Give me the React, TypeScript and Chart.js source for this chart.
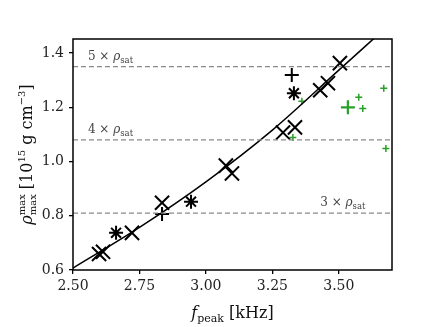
import React, { useEffect, useRef } from "react";
import { Chart, registerables } from "chart.js";
Chart.register(...registerables);

// ---- data ----
const xTickValues = [2.5, 2.75, 3.0, 3.25, 3.5];
const yTickValues = [0.6, 0.8, 1.0, 1.2, 1.4];

const crossX = [2.598, 2.613, 2.722, 2.835, 3.075, 3.098, 3.29, 3.335, 3.43, 3.459, 3.504];
const crossY = [0.659, 0.667, 0.737, 0.848, 0.985, 0.956, 1.107, 1.126, 1.263, 1.289, 1.363];

const starX = [2.662, 2.944, 3.331];
const starY = [0.737, 0.852, 1.252];

const plusX = [2.835, 3.323];
const plusY = [0.807, 1.319];

const greenSmallX = [3.361, 3.327, 3.575, 3.59, 3.669, 3.677];
const greenSmallY = [1.222, 1.089, 1.237, 1.196, 1.27, 1.048];

const greenBigX = [3.534];
const greenBigY = [1.2];

const fitX = [2.5, 2.75, 3.0, 3.25, 3.5, 3.65];
const fitY = [0.607, 0.757, 0.925, 1.116, 1.337, 1.47];

const rhoSat = 0.27;
const satMultiples = [3, 4, 5];
const satLabelX = [3.43, 2.556, 2.556];

const X_MIN = 2.5;
const X_MAX = 3.7;
const Y_MIN = 0.6;
const Y_MAX = 1.452;

const zip = (xs: number[], ys: number[]) => xs.map((x, i) => ({ x, y: ys[i] }));

type Seg = { t: string; italic?: boolean; size: number; dy?: number; stackNext?: boolean };

const fontOf = (s: Seg) => `${s.italic ? "italic " : ""}${s.size}px "DejaVu Serif"`;

function measureRich(ctx: CanvasRenderingContext2D, segs: Seg[]) {
  const widths: number[] = segs.map((s) => {
    ctx.font = fontOf(s);
    return ctx.measureText(s.t).width;
  });
  let total = 0;
  for (let i = 0; i < segs.length; i++) {
    if (segs[i].stackNext) {
      total += Math.max(widths[i], widths[i + 1]);
      i++;
    } else total += widths[i];
  }
  return { widths, total };
}

function drawRich(ctx: CanvasRenderingContext2D, segs: Seg[], cx: number, cy: number, color: string) {
  const { widths, total } = measureRich(ctx, segs);
  let x = cx - total / 2;
  ctx.fillStyle = color;
  ctx.textBaseline = "alphabetic";
  ctx.textAlign = "left";
  for (let i = 0; i < segs.length; i++) {
    const s = segs[i];
    ctx.font = fontOf(s);
    ctx.fillText(s.t, x, cy + (s.dy || 0));
    if (s.stackNext) {
      const n = segs[i + 1];
      ctx.font = fontOf(n);
      ctx.fillText(n.t, x, cy + (n.dy || 0));
      x += Math.max(widths[i], widths[i + 1]);
      i++;
    } else x += widths[i];
  }
}

const annotPlugin = {
  id: "annot",
  afterDatasetsDraw(chart: any) {
    const { ctx, chartArea, scales } = chart;
    ctx.save();
    // frame
    ctx.strokeStyle = "#000";
    ctx.lineWidth = 1.5;
    ctx.strokeRect(chartArea.left, chartArea.top, chartArea.right - chartArea.left, chartArea.bottom - chartArea.top);
    // saturation labels
    satMultiples.forEach((m, i) => {
      const y = scales.y.getPixelForValue(m * rhoSat) - 7;
      const x0 = scales.x.getPixelForValue(satLabelX[i]);
      const segs: Seg[] = [
        { t: `${m} × `, size: 12 },
        { t: "ρ", italic: true, size: 12 },
        { t: "sat", size: 8.5, dy: 3 },
      ];
      const { total } = measureRich(ctx, segs);
      drawRich(ctx, segs, x0 + total / 2, y, "#444");
    });
    // x title
    drawRich(
      ctx,
      [
        { t: "f", italic: true, size: 16 },
        { t: "peak", size: 11, dy: 4 },
        { t: " [kHz]", size: 16 },
      ],
      (chartArea.left + chartArea.right) / 2,
      chart.height - 9,
      "#111"
    );
    // y title
    ctx.translate(26, (chartArea.top + chartArea.bottom) / 2);
    ctx.rotate(-Math.PI / 2);
    drawRich(
      ctx,
      [
        { t: "ρ", italic: true, size: 16 },
        { t: "max", size: 10, dy: -7, stackNext: true },
        { t: "max", size: 10, dy: 4 },
        { t: " [10", size: 16 },
        { t: "15", size: 10, dy: -7 },
        { t: " g cm", size: 16 },
        { t: "−3", size: 10, dy: -7 },
        { t: "]", size: 16 },
      ],
      0,
      6,
      "#111"
    );
    ctx.restore();
  },
};

const tickFont = { family: "DejaVu Serif", size: 14 };

export default function App() {
  const ref = useRef<HTMLCanvasElement>(null);
  useEffect(() => {
    if (!ref.current) return;
    const dashSets = satMultiples.map((m) => ({
      type: "line" as const,
      data: [
        { x: X_MIN, y: m * rhoSat },
        { x: X_MAX, y: m * rhoSat },
      ],
      borderColor: "#8a8a8a",
      borderWidth: 1.2,
      borderDash: [5, 3],
      pointRadius: 0,
      fill: false,
    }));
    const chart = new Chart(ref.current, {
      type: "scatter",
      data: {
        datasets: [
          ...dashSets,
          {
            type: "line",
            data: zip(fitX, fitY),
            borderColor: "#000",
            borderWidth: 1.5,
            pointRadius: 0,
            cubicInterpolationMode: "monotone",
            fill: false,
          },
          {
            data: zip(crossX, crossY),
            pointStyle: "crossRot",
            pointRadius: 10,
            borderColor: "#000",
            borderWidth: 2,
          },
          {
            data: zip(starX, starY),
            pointStyle: "star",
            pointRadius: 7,
            borderColor: "#000",
            borderWidth: 2,
          },
          {
            data: zip(plusX, plusY),
            pointStyle: "cross",
            pointRadius: 7,
            borderColor: "#000",
            borderWidth: 2,
          },
          {
            data: zip(greenSmallX, greenSmallY),
            pointStyle: "cross",
            pointRadius: 3.5,
            borderColor: "rgb(40,160,40)",
            borderWidth: 1.5,
          },
          {
            data: zip(greenBigX, greenBigY),
            pointStyle: "cross",
            pointRadius: 7,
            borderColor: "rgb(40,160,40)",
            borderWidth: 2.2,
          },
        ] as any,
      },
      options: {
        animation: false,
        responsive: false,
        events: [],
        layout: { padding: { left: 0, right: 44, top: 39, bottom: 0 } },
        plugins: { legend: { display: false }, tooltip: { enabled: false } },
        scales: {
          x: {
            type: "linear",
            min: X_MIN,
            max: X_MAX,
            afterBuildTicks: (s: any) => {
              s.ticks = xTickValues.map((v) => ({ value: v }));
            },
            afterFit: (s: any) => {
              s.height = 57;
            },
            ticks: {
              font: tickFont,
              color: "#222",
              padding: 4,
              maxRotation: 0,
              callback: (v: any) => Number(v).toFixed(2),
            },
            grid: { display: true, drawOnChartArea: false, drawTicks: true, tickLength: 4, color: "#000", lineWidth: 1.3 },
            border: { display: false },
          },
          y: {
            type: "linear",
            min: Y_MIN,
            max: Y_MAX,
            afterBuildTicks: (s: any) => {
              s.ticks = yTickValues.map((v) => ({ value: v }));
            },
            afterFit: (s: any) => {
              s.width = 73;
            },
            ticks: {
              font: tickFont,
              color: "#222",
              padding: 5,
              callback: (v: any) => Number(v).toFixed(1),
            },
            grid: { display: true, drawOnChartArea: false, drawTicks: true, tickLength: 4, color: "#000", lineWidth: 1.3 },
            border: { display: false },
          },
        },
      } as any,
      plugins: [annotPlugin],
    });
    return () => chart.destroy();
  }, []);
  return (
    <div style={{ position: "fixed", left: 0, top: 0, width: 436, height: 327, background: "#fff" }}>
      <canvas ref={ref} width={436} height={327} style={{ width: 436, height: 327 }} />
    </div>
  );
}
